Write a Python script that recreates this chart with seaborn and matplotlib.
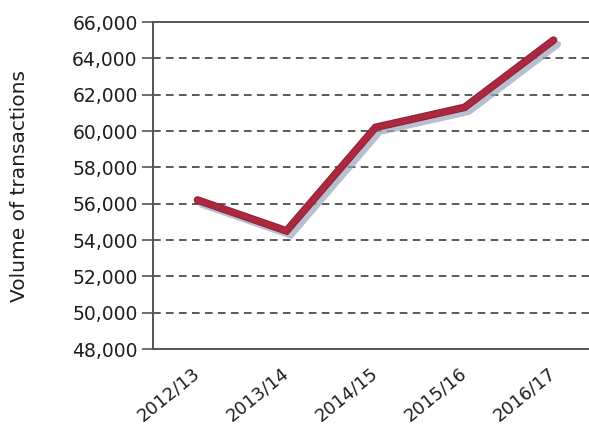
import matplotlib
matplotlib.use("Agg")
import matplotlib.pyplot as plt
import matplotlib.patheffects as pe
from matplotlib.ticker import FuncFormatter, FixedLocator
import seaborn as sns
import pandas as pd

# Transaction volumes by financial year
years = ["2012/13", "2013/14", "2014/15", "2015/16", "2016/17"]
volumes = [56200, 54500, 60200, 61300, 65000]
y_ticks = [48000, 50000, 52000, 54000, 56000, 58000, 60000, 62000, 64000, 66000]

sns.set_style("white")
plt.rcParams["font.family"] = ["DejaVu Sans"]
plt.rcParams["text.color"] = "#1e1e1e"

df = pd.DataFrame({"year": years, "volume": volumes})

fig = plt.figure(figsize=(5.89, 4.26), dpi=100)
ax = fig.add_axes([153 / 589, 1 - 349 / 426, 445 / 589, 327 / 426])

line_color = "#AC283F"
sns.lineplot(data=df, x="year", y="volume", ax=ax, color=line_color,
             linewidth=4.2, sort=False, zorder=5)
ax.lines[0].set_path_effects([
    pe.SimpleLineShadow(offset=(3, -3), shadow_color="#9aa6bb", alpha=0.7, linewidth=5),
    pe.Stroke(linewidth=5.5, foreground="#8a1e32"),
    pe.Normal(),
])
ax.lines[0].set_solid_capstyle("round")
ax.lines[0].set_solid_joinstyle("miter")

# Dashed horizontal gridlines
for v in y_ticks[1:-1]:
    ax.axhline(v, color="#2e2e2e", linestyle=(0, (5, 3.5)), linewidth=1.1, zorder=1)

ax.set_ylim(48000, 66000)
ax.set_xlim(-0.5, len(years) - 0.5)
ax.yaxis.set_major_locator(FixedLocator(y_ticks))
ax.yaxis.set_major_formatter(FuncFormatter(lambda v, p: f"{int(v):,}"))

ax.set_xticks(range(len(years)))
ax.set_xticklabels(years, rotation=39, ha="right", va="center",
                   rotation_mode="anchor", fontsize=13)
ax.set_xticks([i - 0.5 for i in range(len(years) + 1)], minor=True)
ax.tick_params(axis="x", which="major", length=0, pad=16, labelcolor="#1e1e1e")
ax.tick_params(axis="x", which="minor", length=6, width=1.2, color="#555555", direction="out")
ax.tick_params(axis="y", which="major", length=8, width=1.2, color="#555555",
               direction="out", labelsize=13.5, pad=3, labelcolor="#1e1e1e")
ax.tick_params(left=True)

for side in ["left", "bottom", "top"]:
    ax.spines[side].set_visible(True)
    ax.spines[side].set_color("#555555")
    ax.spines[side].set_linewidth(1.4)
ax.spines["right"].set_visible(False)

ax.set_xlabel("")
ax.set_ylabel("Volume of transactions", fontsize=14.5, color="#1e1e1e")
ax.yaxis.set_label_coords((29 - 153) / 445, 0.5)

fig.savefig("out.png", dpi=100)
